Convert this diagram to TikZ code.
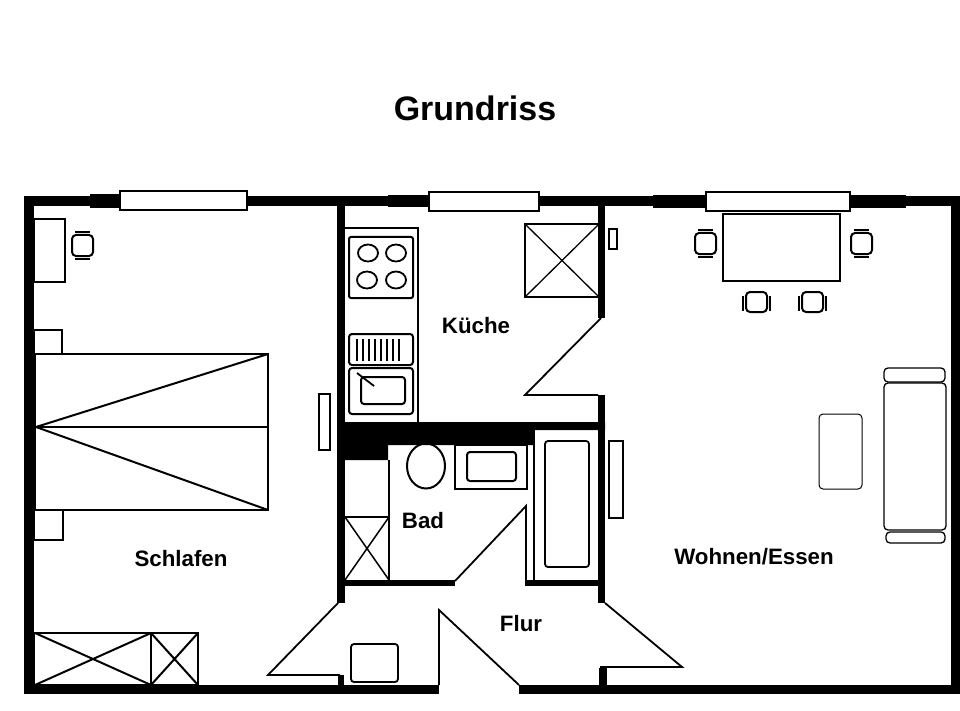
\documentclass[tikz,border=0pt]{standalone}
\usepackage{fontspec}
\setmainfont{Liberation Sans}
\tikzset{
  wall/.style={fill=black,draw=none},
  furn/.style={draw=black,line width=2pt,fill=white},
  thin/.style={draw=black,line width=1.8pt},
  roomlabel/.style={font=\fontsize{22.3}{26}\selectfont\bfseries,inner sep=0pt}
}
\begin{document}
\begin{tikzpicture}[x=1pt,y=-1pt]
 \useasboundingbox (0,0) rectangle (960,711);

 \node[font=\fontsize{34}{40}\selectfont\bfseries,inner sep=0pt] (title) at (475,108) {Grundriss};

% Kitchen
 \draw[furn,line width=1.3pt] (343,228) rectangle (418,424);
 \draw[furn,rounded corners=2pt] (349,237) rectangle (413,298);
 \foreach \bx/\by in {368/253,396/253,367/280,396/280}
   \draw[line width=1.8pt] (\bx,\by) ellipse (10 and 8.5);
 \draw[furn,rounded corners=3pt] (349,334) rectangle (413,365);
 \foreach \lx in {357,363,369,375,381,387,393,399}
   \draw[line width=1.3pt] (\lx,339) -- (\lx,361);
 \draw[furn,rounded corners=3pt] (349,368) rectangle (413,414);
 \draw[furn,rounded corners=3pt] (361,377) rectangle (405,404);
 \draw[line width=1.8pt] (357,373) -- (374,386);
 \draw[furn,line width=1.3pt] (525,224) rectangle (599,297);
 \draw[thin,line width=1.3pt] (525,224) -- (599,297) (525,297) -- (599,224);

% Bad
 \draw[thin,line width=2pt] (426,466) ellipse (19 and 22.5);
 \draw[thin,line width=2pt] (389,460) -- (389,580);
 \draw[thin,line width=2pt] (345,517) -- (389,517);
 \draw[thin,line width=1.5pt] (345,517) -- (389,580) (345,580) -- (389,517);
 \draw[thin] (534,430) -- (534,580);
 \draw[thin,line width=2pt] (455,445) rectangle (527,489);
 \draw[thin,rounded corners=3pt,line width=2pt] (467,452) rectangle (516,481);
 \draw[thin,rounded corners=3pt] (545,441) rectangle (589,567);

% Outer walls
 \fill[wall] (24,196) rectangle (960,206);
 \fill[wall] (24,196) rectangle (34,694);
 \fill[wall] (951,196) rectangle (960,694);
 \fill[wall] (24,685) rectangle (439,694);
 \fill[wall] (519,685) rectangle (960,694);
 \fill[wall] (90,194) rectangle (120,208);
 \fill[wall] (388,195) rectangle (429,207);
 \fill[wall] (653,195) rectangle (706,208);
 \fill[wall] (850,195) rectangle (906,208);

% Inner walls
 \fill[wall] (337,206) rectangle (345,603);
 \fill[wall] (598,206) rectangle (605,318);
 \fill[wall] (598,395) rectangle (605,603);
 \fill[wall] (338,675) rectangle (344,685);
 \fill[wall] (599,668) rectangle (607,685);
 \fill[wall] (337,422) -- (605,422) -- (605,430) -- (534,430) -- (534,445)
   -- (388,445) -- (388,460) -- (337,460) -- cycle;
 \fill[wall] (337,580) rectangle (455,586);
 \fill[wall] (525,580) rectangle (598,586);

% Windows
 \draw[furn,line width=1.3pt] (120,191) rectangle (247,210);
 \draw[furn,line width=1.3pt] (429,192) rectangle (539,211);
 \draw[furn,line width=1.3pt] (706,192) rectangle (850,211);

% Doors
 \draw[thin] (338,603) -- (268,675) -- (340,675);
 \draw[thin] (601,318) -- (525,395) -- (598,395);
 \draw[thin] (605,603) -- (682,667) -- (600,667);
 \draw[thin] (455,581) -- (526,506) -- (526,580);
 \draw[thin] (439,685) -- (439,610) -- (519,685);

% Radiators
 \draw[furn] (319,394) rectangle (330,450);
 \draw[furn,line width=1.3pt] (609,229) rectangle (617,249);
 \draw[furn,line width=1.3pt] (609,441) rectangle (623,518);

% Schlafen
 \draw[furn] (34,219) rectangle (65,282);
 \draw[furn] (34,330) rectangle (62,354);
 \draw[furn] (35,354) rectangle (268,510);
 \draw[furn] (34,510) rectangle (63,540);
 \draw[thin,line width=2pt] (36,427) -- (268,427);
 \draw[thin,line width=2pt] (268,354) -- (36,427) -- (268,510);
 \draw[furn] (34,633) rectangle (151,685);
 \draw[furn] (151,633) rectangle (198,685);
 \draw[thin,line width=2pt] (35,633) -- (151,685) (35,685) -- (151,633);
 \draw[thin,line width=2pt] (151,633) -- (198,685) (151,685) -- (198,633);

% Chairs with bars above and below
 \foreach \cx/\cy in {72/235,695/233,851/233}
  {
   \draw[furn,rounded corners=4pt] (\cx,\cy) rectangle ++(21,21);
   \draw[line width=2pt] (\cx+3,\cy-3) -- ++(15,0) (\cx+3,\cy+24) -- ++(15,0);
  }
% Chairs with bars left and right
 \foreach \cx in {746,802}
  {
   \draw[furn,rounded corners=4pt] (\cx,292) rectangle ++(21,20);
   \draw[line width=2pt] (\cx-3,296) -- ++(0,15) (\cx+24,296) -- ++(0,15);
  }

% Flur and Wohnen
 \draw[thin,rounded corners=3pt] (351,644) rectangle (398,682);
 \draw[thin,line width=1.5pt] (723,214) rectangle (840,281);
 \draw[thin,rounded corners=4pt,line width=1.3pt] (884,383) rectangle (946,530);
 \draw[thin,rounded corners=4pt,line width=1.3pt] (884,368) rectangle (945,382);
 \draw[thin,rounded corners=4pt,line width=1.3pt] (886,532) rectangle (945,543);
 \draw[thin,rounded corners=4pt,line width=1pt] (819,414) rectangle (862,489);

% Room names
 \node[roomlabel] (schlafen) at (181,559) {Schlafen};
 \node[roomlabel] (kueche) at (476,326) {Küche};
 \node[roomlabel] (bad) at (423,521) {Bad};
 \node[roomlabel] (flur) at (521,624) {Flur};
 \node[roomlabel] (wohnen) at (754,557) {Wohnen/Essen};

\end{tikzpicture}
\end{document}
